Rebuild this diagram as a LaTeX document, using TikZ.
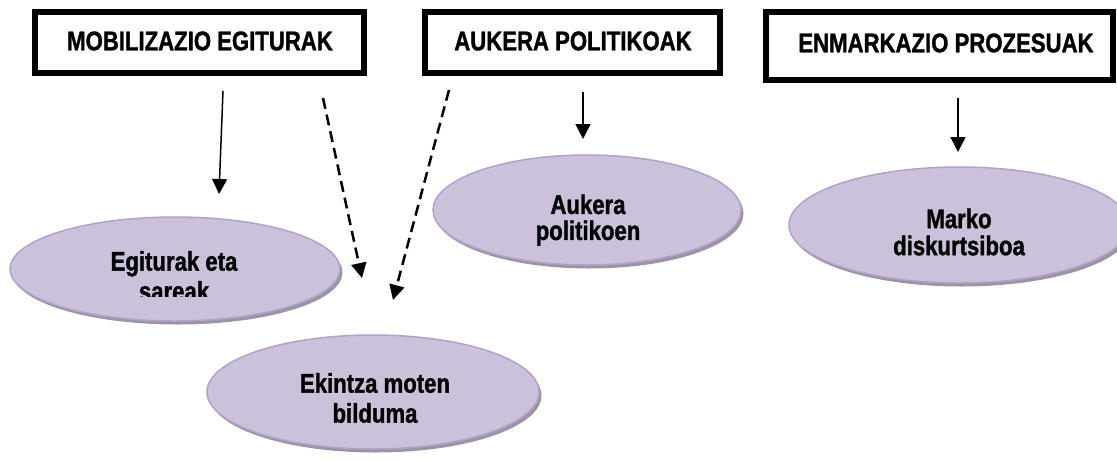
\documentclass[tikz,border=0pt]{standalone}
\usepackage{fontspec}
\setmainfont[FakeStretch=0.82, BoldFeatures={FakeBold=1.2}]{Liberation Sans}
\usetikzlibrary{arrows.meta,shapes.geometric,shadows}
\definecolor{efill}{HTML}{CCC1DA}
\definecolor{edraw}{HTML}{B3A2C7}
\definecolor{eshadow}{HTML}{9D93A8}
\tikzset{
  topbox/.style={draw=black, line width=6pt, fill=white, inner sep=0pt, rectangle},
  boxtext/.style={font=\fontsize{27}{30}\selectfont\bfseries, inner sep=0pt},
  oval/.style={ellipse, draw=edraw, line width=1.5pt, fill=efill, inner sep=0pt,
    drop shadow={shadow xshift=2.5pt, shadow yshift=-3.5pt, fill=eshadow, opacity=1}},
  ovaltext/.style={font=\fontsize{27}{30}\selectfont\bfseries, align=center, inner sep=0pt},
  solidarrow/.style={line width=1.5pt, -{Triangle[width=15pt,length=15pt]}},
  dasharrow/.style={line width=2.5pt, dash pattern=on 11pt off 6pt, -{Triangle[width=15pt,length=15pt]}},
}
\begin{document}
\begin{tikzpicture}[x=1pt,y=-1pt]
\useasboundingbox (0,0) rectangle (1117,459);
\clip (0,0) rectangle (1117,459);
% top boxes
\node[topbox, minimum width=329pt, minimum height=61pt] (b1) at (199.5,42.5) {};
\node[boxtext] (b1t) at (200,41) {MOBILIZAZIO EGITURAK};
\node[topbox, minimum width=295pt, minimum height=61pt] (b2) at (572.5,42.5) {};
\node[boxtext] (b2t) at (573,41) {AUKERA POLITIKOAK};
\node[topbox, minimum width=347pt, minimum height=68pt] (b3) at (939.5,46) {};
\node[boxtext] (b3t) at (946,43) {ENMARKAZIO PROZESUAK};
% ellipses
\node[oval, minimum width=330pt, minimum height=104pt] (e1) at (175,269) {};
\node[oval, minimum width=332pt, minimum height=114pt] (e2) at (373,392) {};
\node[oval, minimum width=308pt, minimum height=110pt] (e3) at (587,210) {};
\node[oval, minimum width=340pt, minimum height=116pt] (e4) at (959,225) {};
\begin{scope}
\clip (0,0) rectangle (1117,296);
\node[ovaltext] (t1) at (174,276) {Egiturak eta\\sareak};
\end{scope}
\node[ovaltext] (t2) at (375,398) {Ekintza moten\\bilduma};
\node[ovaltext, font=\fontsize{27}{26}\selectfont\bfseries] (t3) at (588,220) {Aukera\\politikoen};
\node[ovaltext, font=\fontsize{27}{27}\selectfont\bfseries] (t4) at (959,232) {Marko\\diskurtsiboa};
% connector end points
\coordinate (a1s) at (223,91);
\coordinate (a1e) at (219,194);
\coordinate (d1s) at (323,98);
\coordinate (d1e) at (362,278);
\coordinate (d2s) at (449,90);
\coordinate (d2e) at (393,300);
\coordinate (a3s) at (583,92);
\coordinate (a3e) at (583,139);
\coordinate (a4s) at (958,98);
\coordinate (a4e) at (958,152);
\draw[solidarrow] (a1s) -- (a1e);
\draw[dasharrow] (d1s) -- (d1e);
\draw[dasharrow] (d2s) -- (d2e);
\draw[solidarrow] (a3s) -- (a3e);
\draw[solidarrow] (a4s) -- (a4e);
\end{tikzpicture}
\end{document}
